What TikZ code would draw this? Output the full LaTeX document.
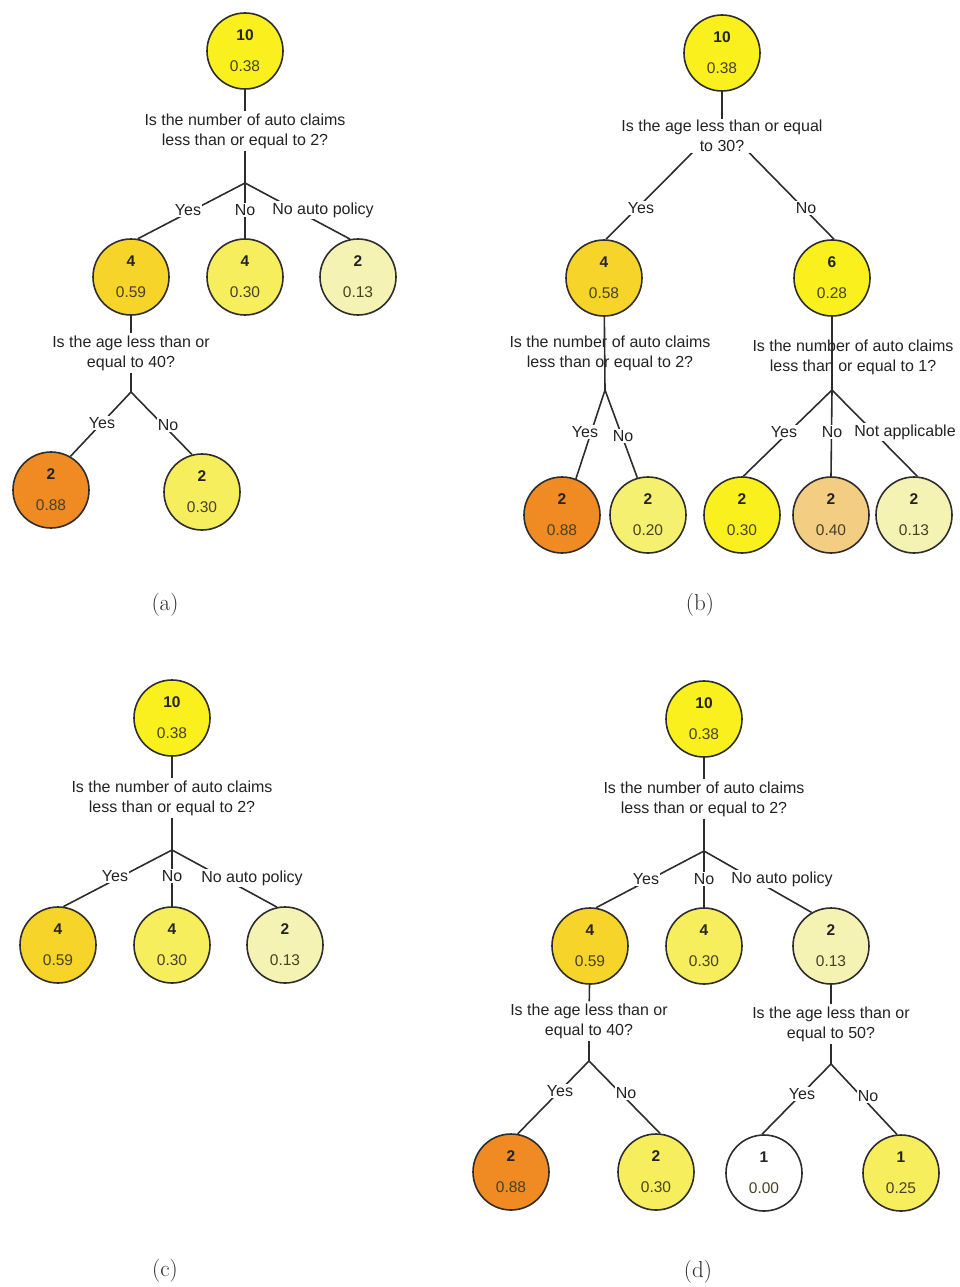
\documentclass[tikz,border=0pt]{standalone}
\usepackage{fontspec}
\newfontfamily\treefont{Liberation Sans}
\definecolor{edgecol}{RGB}{45,45,45}
\definecolor{txtcol}{RGB}{35,35,35}
\definecolor{valcol}{RGB}{70,66,35}
\definecolor{capcol}{RGB}{40,40,40}
\definecolor{cyel}{RGB}{250,240,30}
\definecolor{cgold}{RGB}{247,212,42}
\definecolor{clight}{RGB}{246,238,92}
\definecolor{cpale20}{RGB}{245,240,112}
\definecolor{cpale}{RGB}{245,243,180}
\definecolor{corange}{RGB}{240,138,35}
\definecolor{ctan}{RGB}{242,205,130}
% count in bold, share below it
\newcommand{\circtxt}[2]{\textbf{#1}\\[13pt]\textcolor{valcol}{#2}}
\begin{document}
\begin{tikzpicture}[x=1pt,y=-1pt,
  circ/.style={circle, draw=edgecol, line width=1.6pt, minimum size=76pt,
    inner sep=0pt, align=center, text=txtcol,
    font=\treefont\fontsize{15.5}{18}\selectfont},
  ques/.style={align=center, inner sep=2pt, text=txtcol,
    font=\treefont\fontsize{16}{20}\selectfont},
  lbl/.style={fill=white, inner sep=1.2pt, text=txtcol,
    font=\treefont\fontsize{16}{19}\selectfont},
  conn/.style={draw=edgecol, line width=1.6pt},
  captxt/.style={text=capcol, font=\fontsize{23}{27}\selectfont}]
\useasboundingbox (0,0) rectangle (960,1287);

% ---------------- tree (a) ----------------
\node[circ, fill=cyel]    (rA)  at (245,51)  {\circtxt{10}{0.38}};
\node[ques]               (qA)  at (245,131) {Is the number of auto claims\\less than or equal to 2?};
\coordinate               (jA)  at (245,183);
\node[circ, fill=cgold]   (cA1) at (131,277) {\circtxt{4}{0.59}};
\node[circ, fill=clight]  (cA2) at (245,277) {\circtxt{4}{0.30}};
\node[circ, fill=cpale]   (cA3) at (358,277) {\circtxt{2}{0.13}};
\node[ques]               (qA2) at (131,353) {Is the age less than or\\equal to 40?};
\coordinate               (jA2) at (131,392);
\node[circ, fill=corange] (lA1) at (51,490)  {\circtxt{2}{0.88}};
\node[circ, fill=clight]  (lA2) at (202,492) {\circtxt{2}{0.30}};
\draw[conn] (rA) -- (qA);
\draw[conn] (qA) -- (jA);
\draw[conn] (jA) -- (cA1.80);
\draw[conn] (jA) -- (cA2.90);
\draw[conn] (jA) -- (cA3.102);
\draw[conn] (cA1) -- (qA2);
\draw[conn] (qA2) -- (jA2);
\draw[conn] (jA2) -- (lA1.60);
\draw[conn] (jA2) -- (lA2.105);
\node[lbl] (yA1) at (188,210) {Yes};
\node[lbl] (nA1) at (245,210) {No};
\node[lbl] (pA1) at (323,210) {No auto policy};
\node[lbl] (yA2) at (102,423) {Yes};
\node[lbl] (nA2) at (168,425) {No};
\node[captxt] (capA) at (165,605) {(a)};

% ---------------- tree (b) ----------------
\node[circ, fill=cyel]    (rB)  at (722,53)  {\circtxt{10}{0.38}};
\coordinate               (jB)  at (721,124);
\node[circ, fill=cgold]   (cB1) at (604,278) {\circtxt{4}{0.58}};
\node[circ, fill=cyel]    (cB2) at (832,278) {\circtxt{6}{0.28}};
\draw[conn] (jB) -- (cB1.87);
\draw[conn] (jB) -- (cB2.87);
\node[ques, fill=white, inner sep=1pt] (qB) at (722,136) {Is the age less than or equal\\to 30?};
\draw[conn] (rB) -- (qB);
\node[ques]               (qB2) at (610,353) {Is the number of auto claims\\less than or equal to 2?};
\node[ques]               (qB3) at (853,357) {Is the number of auto claims\\less than or equal to 1?};
\coordinate               (jB2) at (605,390);
\coordinate               (jB3) at (832,390);
\node[circ, fill=corange] (lB1) at (562,515) {\circtxt{2}{0.88}};
\node[circ, fill=cpale20] (lB2) at (648,515) {\circtxt{2}{0.20}};
\node[circ, fill=cyel]    (lB3) at (742,515) {\circtxt{2}{0.30}};
\node[circ, fill=ctan]    (lB4) at (831,515) {\circtxt{2}{0.40}};
\node[circ, fill=cpale]   (lB5) at (914,515) {\circtxt{2}{0.13}};
\draw[conn] (cB1) -- (jB2);
\draw[conn] (cB2) -- (jB3);
\draw[conn] (jB2) -- (lB1.69);
\draw[conn] (jB2) -- (lB2.106);
\draw[conn] (jB3) -- (lB3.88);
\draw[conn] (jB3) -- (lB4.90);
\draw[conn] (jB3) -- (lB5.85);
\node[lbl] (yB)  at (641,208) {Yes};
\node[lbl] (nB)  at (806,208) {No};
\node[lbl] (yB2) at (585,432) {Yes};
\node[lbl] (nB2) at (623,436) {No};
\node[lbl] (yB3) at (784,432) {Yes};
\node[lbl] (nB3) at (832,432) {No};
\node[lbl] (naB) at (905,432) {Not applicable};
\node[captxt] (capB) at (700,605) {(b)};

% ---------------- tree (c) ----------------
\node[circ, fill=cyel]    (rC)  at (172,718) {\circtxt{10}{0.38}};
\node[ques]               (qC)  at (172,798) {Is the number of auto claims\\less than or equal to 2?};
\coordinate               (jC)  at (172,850);
\node[circ, fill=cgold]   (cC1) at (58,945)  {\circtxt{4}{0.59}};
\node[circ, fill=clight]  (cC2) at (172,945) {\circtxt{4}{0.30}};
\node[circ, fill=cpale]   (cC3) at (285,945) {\circtxt{2}{0.13}};
\draw[conn] (rC) -- (qC);
\draw[conn] (qC) -- (jC);
\draw[conn] (jC) -- (cC1.82);
\draw[conn] (jC) -- (cC2.90);
\draw[conn] (jC) -- (cC3.102);
\node[lbl] (yC) at (115,876) {Yes};
\node[lbl] (nC) at (172,876) {No};
\node[lbl] (pC) at (252,878) {No auto policy};
\node[captxt] (capC) at (165,1271) {(c)};

% ---------------- tree (d) ----------------
\node[circ, fill=cyel]    (rD)  at (704,719)  {\circtxt{10}{0.38}};
\node[ques]               (qD)  at (704,799)  {Is the number of auto claims\\less than or equal to 2?};
\coordinate               (jD)  at (704,851);
\node[circ, fill=cgold]   (cD1) at (590,946)  {\circtxt{4}{0.59}};
\node[circ, fill=clight]  (cD2) at (704,946)  {\circtxt{4}{0.30}};
\node[circ, fill=cpale]   (cD3) at (831,946)  {\circtxt{2}{0.13}};
\node[ques]               (qD2) at (589,1021) {Is the age less than or\\equal to 40?};
\node[ques]               (qD3) at (831,1024) {Is the age less than or\\equal to 50?};
\coordinate               (jD2) at (589,1061);
\coordinate               (jD3) at (831,1064);
\node[circ, fill=corange] (lD1) at (511,1172) {\circtxt{2}{0.88}};
\node[circ, fill=clight]  (lD2) at (656,1172) {\circtxt{2}{0.30}};
\node[circ, fill=white]   (lD3) at (764,1173) {\circtxt{1}{0.00}};
\node[circ, fill=clight]  (lD4) at (901,1173) {\circtxt{1}{0.25}};
\draw[conn] (rD) -- (qD);
\draw[conn] (qD) -- (jD);
\draw[conn] (jD) -- (cD1.81);
\draw[conn] (jD) -- (cD2.90);
\draw[conn] (jD) -- (cD3.120);
\draw[conn] (cD1) -- (qD2);
\draw[conn] (qD2) -- (jD2);
\draw[conn] (cD3) -- (qD3);
\draw[conn] (qD3) -- (jD3);
\draw[conn] (jD2) -- (lD1.80);
\draw[conn] (jD2) -- (lD2.84);
\draw[conn] (jD3) -- (lD3.93);
\draw[conn] (jD3) -- (lD4.96);
\node[lbl] (yD)  at (646,879)  {Yes};
\node[lbl] (nD)  at (704,879)  {No};
\node[lbl] (pD)  at (782,879)  {No auto policy};
\node[lbl] (yD2) at (560,1091) {Yes};
\node[lbl] (nD2) at (626,1093) {No};
\node[lbl] (yD3) at (802,1094) {Yes};
\node[lbl] (nD3) at (868,1096) {No};
\node[captxt] (capD) at (698,1272) {(d)};
\end{tikzpicture}
\end{document}
